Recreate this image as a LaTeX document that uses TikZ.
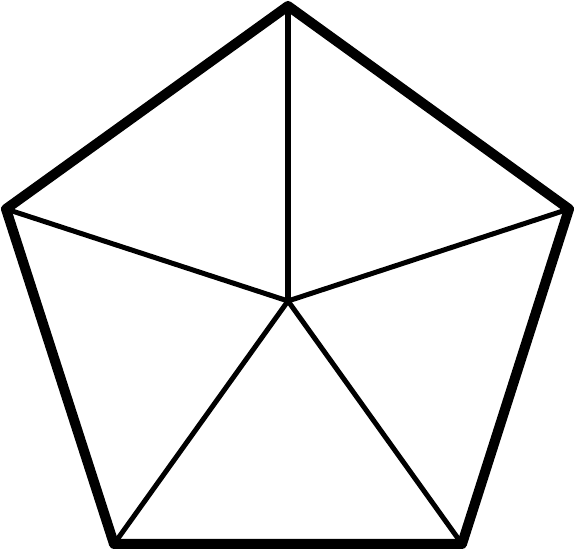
\documentclass[tikz,border=0pt]{standalone}
\usepackage{tikz}

\begin{document}
\begin{tikzpicture}[
  x=0.01cm, y=-0.01cm,
  rim/.style={line width=0.1cm, line join=round, line cap=round},
  spoke/.style={line width=0.05cm}
]
\useasboundingbox (0,0) rectangle (575,549);
\coordinate (mid) at (288,301);
\coordinate (top) at (288,6);
\coordinate (rgt) at (569,209);
\coordinate (brt) at (462,544);
\coordinate (blf) at (114,544);
\coordinate (lft) at (6,209);
% spokes from the centre
\foreach \v in {top,rgt,brt,blf,lft}
  \draw[spoke] (mid) -- (\v);
% outer rim
\draw[rim] (top) -- (rgt) -- (brt) -- (blf) -- (lft) -- cycle;
\end{tikzpicture}
\end{document}
